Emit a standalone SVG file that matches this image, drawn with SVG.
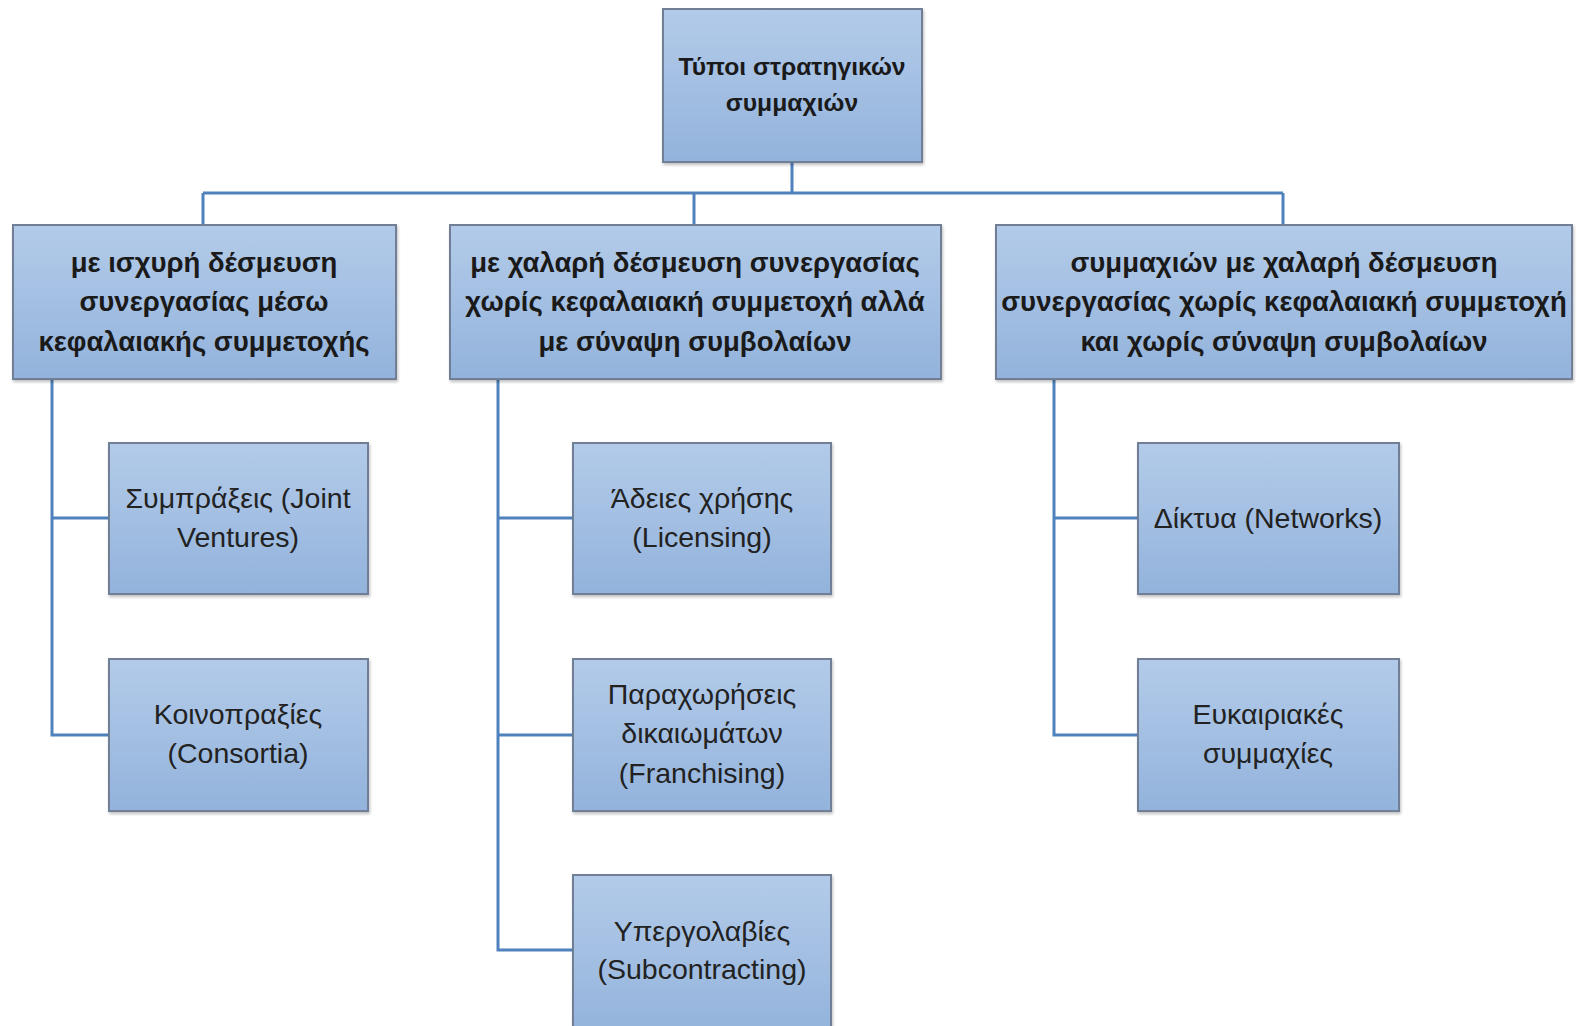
<svg xmlns="http://www.w3.org/2000/svg" width="1578" height="1026" viewBox="0 0 1578 1026">
<defs>
<linearGradient id="g" x1="0" y1="0" x2="0" y2="1">
<stop offset="0" stop-color="#b3cbe9"/>
<stop offset="1" stop-color="#93b3dc"/>
</linearGradient>
<filter id="sh" x="-5%" y="-5%" width="112%" height="115%">
<feDropShadow dx="1" dy="2" stdDeviation="1.5" flood-color="#000" flood-opacity="0.25"/>
</filter>
<style>
.box{fill:url(#g);stroke:#6f7f96;stroke-width:2;filter:url(#sh)}
.con{fill:none;stroke:#4f81bd;stroke-width:3}
.tb{font-family:"Liberation Sans",Arial,sans-serif;font-weight:bold;font-size:27.5px;fill:#1a1a1a;text-anchor:middle;dominant-baseline:central}
.tt{font-size:24.7px}
.tr{font-family:"Liberation Sans",Arial,sans-serif;font-size:28.5px;fill:#222;text-anchor:middle;dominant-baseline:central}
</style>
</defs>
<rect width="1578" height="1026" fill="#fff"/>
<g id="connectors">
<path class="con" d="M792 162V193M203 193H1283M203 193V225M694 193V225M1283 193V225"/>
<path class="con" d="M52 379V735H109M52 518H109"/>
<path class="con" d="M498 379V950H573M498 518H573M498 735H573"/>
<path class="con" d="M1054 379V735H1138M1054 518H1138"/>
</g>
<g id="root">
<rect class="box" x="663" y="9" width="259" height="153"/>
<text class="tb tt" x="792" y="66">Τύποι στρατηγικών</text>
<text class="tb tt" x="792" y="102">συμμαχιών</text>
</g>
<g id="strong">
<rect class="box" x="13" y="225" width="383" height="154"/>
<text class="tb" x="204" y="262">με ισχυρή δέσμευση</text>
<text class="tb" x="204" y="301">συνεργασίας μέσω</text>
<text class="tb" x="204" y="341">κεφαλαιακής συμμετοχής</text>
</g>
<g id="contract">
<rect class="box" x="450" y="225" width="491" height="154"/>
<text class="tb" x="695" y="262">με χαλαρή δέσμευση συνεργασίας</text>
<text class="tb" x="695" y="301">χωρίς κεφαλαιακή συμμετοχή αλλά</text>
<text class="tb" x="695" y="341">με σύναψη συμβολαίων</text>
</g>
<g id="loose">
<rect class="box" x="996" y="225" width="576" height="154"/>
<text class="tb" x="1284" y="262">συμμαχιών με χαλαρή δέσμευση</text>
<text class="tb" x="1284" y="301">συνεργασίας χωρίς κεφαλαιακή συμμετοχή</text>
<text class="tb" x="1284" y="341">και χωρίς σύναψη συμβολαίων</text>
</g>
<g id="jv">
<rect class="box" x="109" y="443" width="259" height="151"/>
<text class="tr" x="238" y="498">Συμπράξεις (Joint</text>
<text class="tr" x="238" y="537">Ventures)</text>
</g>
<g id="consortia">
<rect class="box" x="109" y="659" width="259" height="152"/>
<text class="tr" x="238" y="714">Κοινοπραξίες</text>
<text class="tr" x="238" y="753">(Consortia)</text>
</g>
<g id="licensing">
<rect class="box" x="573" y="443" width="258" height="151"/>
<text class="tr" x="702" y="498">Άδειες χρήσης</text>
<text class="tr" x="702" y="537">(Licensing)</text>
</g>
<g id="franchising">
<rect class="box" x="573" y="659" width="258" height="152"/>
<text class="tr" x="702" y="694">Παραχωρήσεις</text>
<text class="tr" x="702" y="733">δικαιωμάτων</text>
<text class="tr" x="702" y="773">(Franchising)</text>
</g>
<g id="subcontracting">
<rect class="box" x="573" y="875" width="258" height="160"/>
<text class="tr" x="702" y="931">Υπεργολαβίες</text>
<text class="tr" x="702" y="969">(Subcontracting)</text>
</g>
<g id="networks">
<rect class="box" x="1138" y="443" width="261" height="151"/>
<text class="tr" x="1268" y="518">Δίκτυα (Networks)</text>
</g>
<g id="opportunistic">
<rect class="box" x="1138" y="659" width="261" height="152"/>
<text class="tr" x="1268" y="714">Ευκαιριακές</text>
<text class="tr" x="1268" y="753">συμμαχίες</text>
</g>
</svg>
